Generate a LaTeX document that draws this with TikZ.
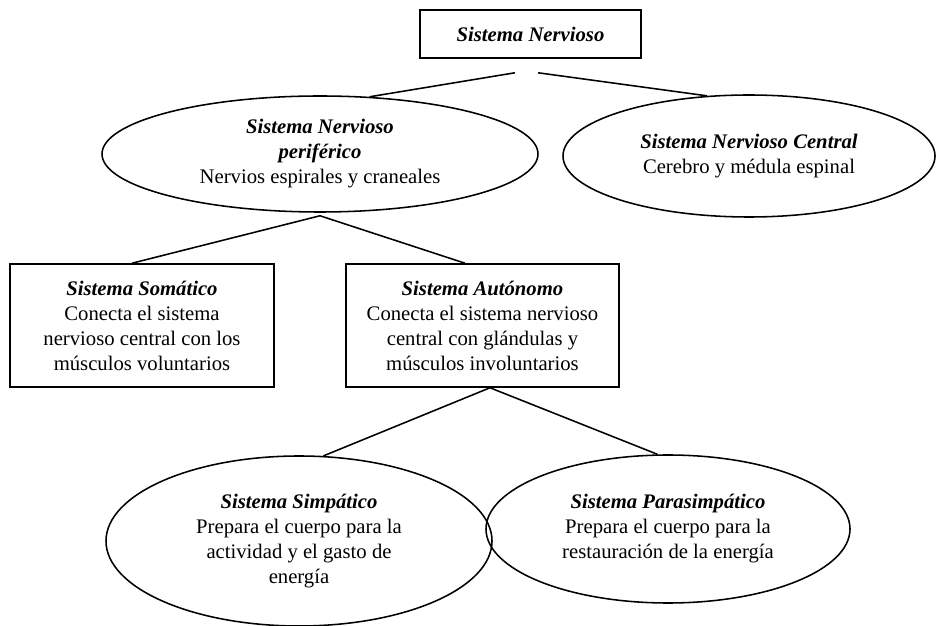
\documentclass[tikz,border=0pt]{standalone}
\usepackage{fontspec}
\setmainfont{Liberation Serif}
\usetikzlibrary{shapes.geometric,calc}
\newcommand{\hd}[1]{\textbf{\textit{#1}}}
\begin{document}
\begin{tikzpicture}[x=0.58pt,y=-0.58pt,
  every node/.style={font=\fontsize{12}{14.5}\selectfont, align=center, inner sep=0pt},
  boxnode/.style={draw, rectangle, line width=0.9pt},
  ellnode/.style={draw, ellipse, line width=0.9pt},
  conn/.style={line width=0.9pt}]
\useasboundingbox (0,0) rectangle (937,626);
\clip (0,0) rectangle (937,626);
% nodes
\node[boxnode, minimum width={221*0.58pt}, minimum height={48*0.58pt}] (sn) at (530.5,34) {\hd{Sistema Nervioso}};
\node[ellnode, minimum width={436*0.58pt}, minimum height={116*0.58pt}] (pnp) at (320,154)
  {\hd{Sistema Nervioso}\\\hd{periférico}\\Nervios espirales y craneales};
\node[ellnode, minimum width={372*0.58pt}, minimum height={122*0.58pt}] (pnc) at (749,156)
  {\hd{Sistema Nervioso Central}\\Cerebro y médula espinal};
\node[boxnode, minimum width={264*0.58pt}, minimum height={123*0.58pt}] (som) at (142,325.5)
  {\hd{Sistema Somático}\\Conecta el sistema\\nervioso central con los\\músculos voluntarios};
\node[boxnode, minimum width={273*0.58pt}, minimum height={123*0.58pt}] (aut) at (482.5,325.5)
  {\hd{Sistema Autónomo}\\Conecta el sistema nervioso\\central con glándulas y\\músculos involuntarios};
\node[ellnode, minimum width={386*0.58pt}, minimum height={170*0.58pt}] (sim) at (299,541)
  {\hd{Sistema Simpático}\\Prepara el cuerpo para la\\actividad y el gasto de\\energía};
\node[ellnode, minimum width={364*0.58pt}, minimum height={148*0.58pt}] (par) at (668,529)
  {\hd{Sistema Parasimpático}\\Prepara el cuerpo para la\\restauración de la energía};
% connector points
\coordinate (snL) at ($(sn.south)+(-15.5,14)$);
\coordinate (snR) at ($(sn.south)+(7.5,14)$);
\coordinate (pnpB) at ($(pnp.south)+(0,3)$);
\coordinate (autB) at ($(aut.south)+(7.5,0)$);
% connectors
\draw[conn] (snL) -- (pnp.49);
\draw[conn] (snR) -- (pnc.125);
\draw[conn] ($(som.north)+(-10,0)$) -- (pnpB) -- ($(aut.north)+(-17.5,0)$);
\draw[conn] (sim.74.5) -- (autB) -- (par.98);
\end{tikzpicture}
\end{document}
